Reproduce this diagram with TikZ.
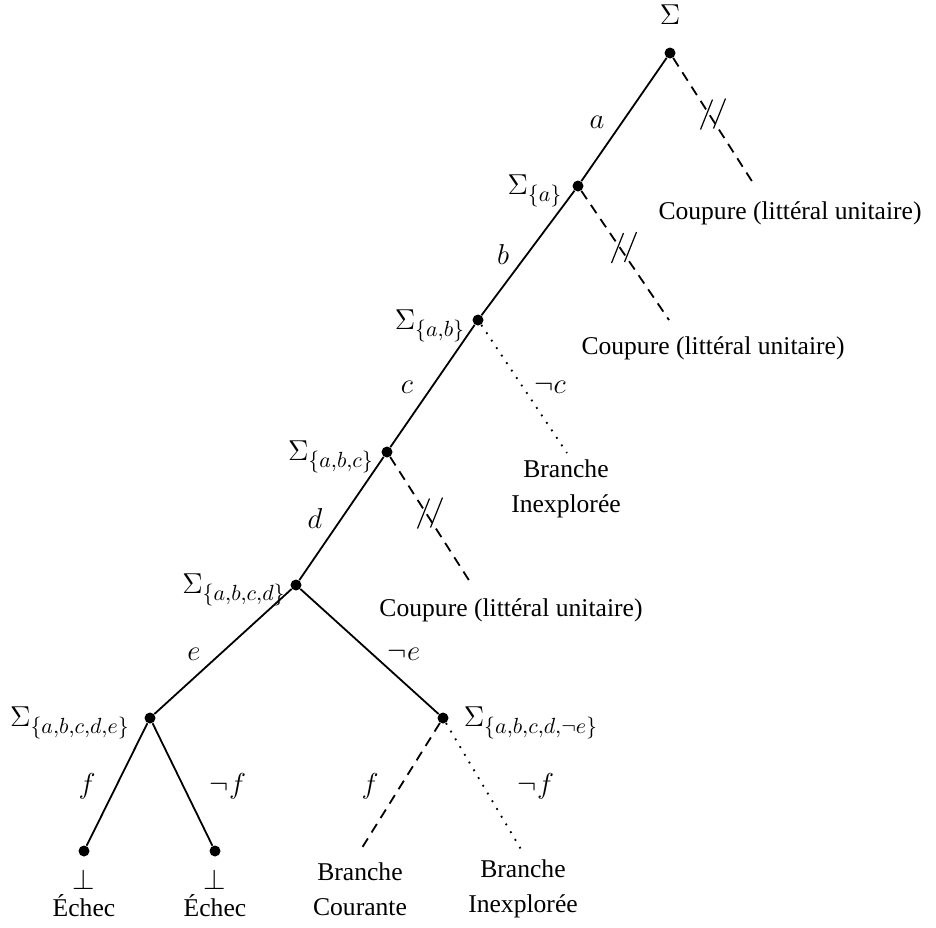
\documentclass[tikz,border=0pt]{standalone}
\usepackage{fontspec}
\setmainfont{Liberation Serif}
\usetikzlibrary{calc}
\begin{document}
\begin{tikzpicture}[x=0.5pt,y=-0.5pt,
  every node/.style={font=\fontsize{15}{17}\selectfont, inner sep=0pt},
  dotnode/.style={circle,fill=black,inner sep=0pt,minimum size=5.5pt},
  edge/.style={line width=0.9pt},
  cutedge/.style={line width=0.9pt,dash pattern=on 5pt off 3.5pt},
  unexp/.style={line width=0.9pt,dash pattern=on 0.9pt off 3.6pt},
  txt/.style={align=center,font=\fontsize{12.8}{17.5}\selectfont}]
\useasboundingbox (0,0) rectangle (936,927);
% tree nodes
\node[dotnode] (r) at (670,53) {};
\node[dotnode] (sa) at (578,186) {};
\node[dotnode] (sab) at (478,320) {};
\node[dotnode] (sabc) at (387,452) {};
\node[dotnode] (sabcd) at (296,585) {};
\node[dotnode] (sabcde) at (150,718) {};
\node[dotnode] (sne) at (443,718) {};
\node[dotnode] (l1) at (84,851) {};
\node[dotnode] (l2) at (215,851) {};
% free ends
\coordinate (c1) at (755,186);
\coordinate (c2) at (669,320);
\coordinate (u1) at (567,453);
\coordinate (c3) at (472,585);
\coordinate (bc) at (360,851);
\coordinate (u2) at (522,851);
% node labels
\node (Lr) at (670,15) {$\Sigma$};
\node (La) at (535,191) {$\Sigma_{\{a\}}$};
\node (Lab) at (430,326) {$\Sigma_{\{a,b\}}$};
\node (Labc) at (331,457) {$\Sigma_{\{a,b,c\}}$};
\node (Labcd) at (234,590) {$\Sigma_{\{a,b,c,d\}}$};
\node (Labcde) at (70,723) {$\Sigma_{\{a,b,c,d,e\}}$};
\node (Lne) at (531,723) {$\Sigma_{\{a,b,c,d,\neg e\}}$};
% solid edges
\draw[edge] (r) -- (sa);
\draw[edge] (sa) -- (sab);
\draw[edge] (sab) -- (sabc);
\draw[edge] (sabc) -- (sabcd);
\draw[edge] (sabcd) -- (sabcde);
\draw[edge] (sabcd) -- (sne);
\draw[edge] (sabcde) -- (l1);
\draw[edge] (sabcde) -- (l2);
% cut edges
\draw[cutedge] (r) -- (c1);
\draw[cutedge] (sa) -- (c2);
\draw[cutedge] (sabc) -- (c3);
\draw[cutedge] (sne) -- (bc);
% unexplored
\draw[unexp] (sab) -- (u1);
\draw[unexp] (sne) -- (u2);
% cut marks
\foreach \a/\b in {r/c1,sa/c2,sabc/c3}{
  \draw[line width=0.6pt] ($(\a)!0.5!(\b)+(-12,10)$) -- ++(12,-30);
  \draw[line width=0.6pt] ($(\a)!0.5!(\b)+(1,9)$) -- ++(12,-30);
}
% edge labels
\node (ea) at (597,122) {$a$};
\node (eb) at (503,254) {$b$};
\node (ec) at (407,387) {$c$};
\node (enc) at (550,387) {$\neg c$};
\node (ed) at (315,518) {$d$};
\node (ee) at (194,654) {$e$};
\node (ene) at (404,654) {$\neg e$};
\node (ef1) at (87,786) {$f$};
\node (enf1) at (228,786) {$\neg f$};
\node (ef2) at (370,786) {$f$};
\node (enf2) at (536,786) {$\neg f$};
% texts
\node[txt] (t1) at (790,213) {Coupure (littéral unitaire)};
\node[txt] (t2) at (713,348) {Coupure (littéral unitaire)};
\node[txt] (t3) at (511,610) {Coupure (littéral unitaire)};
\node[txt] (t4) at (566,489) {Branche\\Inexplorée};
\node[txt] (t5) at (360,889) {Branche\\Courante};
\node[txt] (t6) at (523,889) {Branche\\Inexplorée};
\node (b1) at (84,879) {$\bot$};
\node (b2) at (215,879) {$\bot$};
\node[txt] (e1) at (84,906) {Échec};
\node[txt] (e2) at (215,906) {Échec};
\end{tikzpicture}
\end{document}
